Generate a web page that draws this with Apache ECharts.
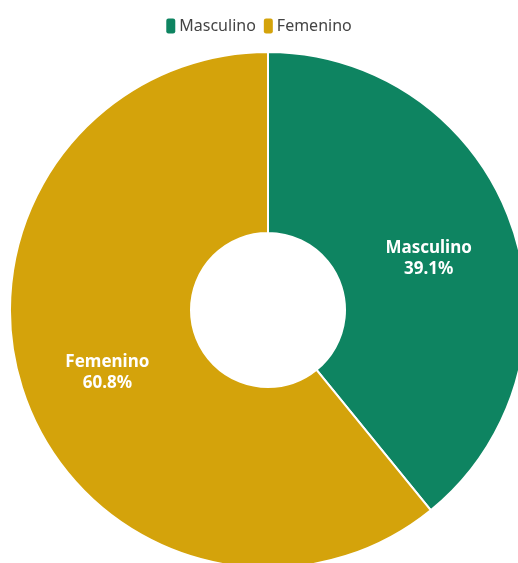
<!DOCTYPE html>
<html>
<head>
<meta charset="utf-8">
<style>
  html, body { margin: 0; padding: 0; background: #fff; }
  #chart { width: 518px; height: 563px; }
</style>
<script src="https://cdn.jsdelivr.net/npm/echarts@6/dist/echarts.min.js"></script>
</head>
<body>
<div id="chart"></div>
<script>
const categories = ['Masculino', 'Femenino']
const percentValues = [39.1, 60.8]
const sliceColors = ['#0e8461', '#d4a30b']

const chart = echarts.init(document.getElementById('chart'))

const option = {
  color: sliceColors,
  legend: {
    top: 13,
    left: 'center',
    icon: 'roundRect',
    itemWidth: 9,
    itemHeight: 15,
    itemGap: 8,
    itemStyle: { borderWidth: 0 },
    textStyle: {
      fontFamily: 'Noto Sans',
      fontSize: 16,
      color: '#444',
      padding: [0, 0, 0, -1]
    },
    data: categories
  },
  series: [
    {
      type: 'pie',
      center: [268, 310],
      radius: [77, 258],
      startAngle: 90,
      clockwise: true,
      avoidLabelOverlap: false,
      itemStyle: {
        borderColor: '#fff',
        borderWidth: 2
      },
      label: {
        show: true,
        position: 'inside',
        formatter: '{b}\n{c}%',
        color: '#fff',
        fontFamily: 'Noto Sans',
        fontWeight: 'bold',
        fontSize: 17,
        lineHeight: 21,
        offset: [0, 6]
      },
      labelLine: { show: false },
      emphasis: { scale: false },
      data: categories.map((name, i) => ({ name: name, value: percentValues[i] }))
    }
  ]
}

chart.setOption(option)
</script>
</body>
</html>
